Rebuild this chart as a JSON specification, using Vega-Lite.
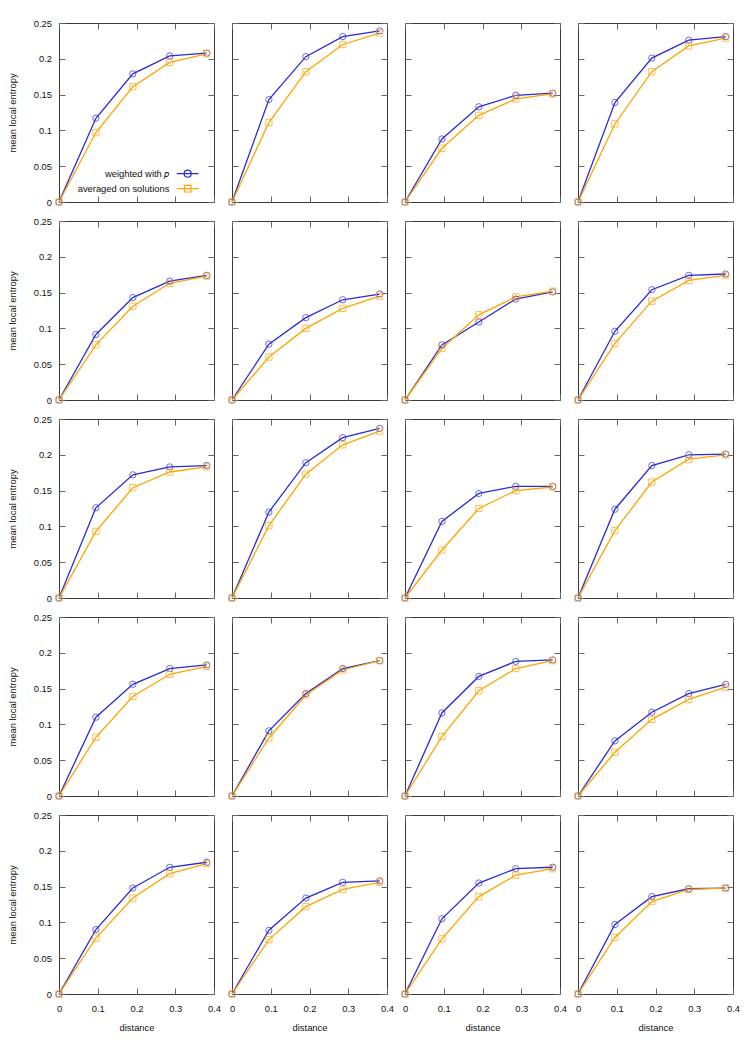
{
"$schema":"https://vega.github.io/schema/vega-lite/v6.json",
"padding":{"left":6,"top":17,"right":8,"bottom":8},
"background":"white",
"data":{"values":[
{"p":1,"s":"w","d":0,"e":0},{"p":1,"s":"w","d":0.0952,"e":0.117},{"p":1,"s":"w","d":0.1905,"e":0.179},{"p":1,"s":"w","d":0.2857,"e":0.204},{"p":1,"s":"w","d":0.381,"e":0.208},
{"p":1,"s":"a","d":0,"e":0},{"p":1,"s":"a","d":0.0952,"e":0.097},{"p":1,"s":"a","d":0.1905,"e":0.161},{"p":1,"s":"a","d":0.2857,"e":0.195},{"p":1,"s":"a","d":0.381,"e":0.207},
{"p":2,"s":"w","d":0,"e":0},{"p":2,"s":"w","d":0.0952,"e":0.143},{"p":2,"s":"w","d":0.1905,"e":0.203},{"p":2,"s":"w","d":0.2857,"e":0.231},{"p":2,"s":"w","d":0.381,"e":0.239},
{"p":2,"s":"a","d":0,"e":0},{"p":2,"s":"a","d":0.0952,"e":0.111},{"p":2,"s":"a","d":0.1905,"e":0.182},{"p":2,"s":"a","d":0.2857,"e":0.220},{"p":2,"s":"a","d":0.381,"e":0.236},
{"p":3,"s":"w","d":0,"e":0},{"p":3,"s":"w","d":0.0952,"e":0.088},{"p":3,"s":"w","d":0.1905,"e":0.133},{"p":3,"s":"w","d":0.2857,"e":0.149},{"p":3,"s":"w","d":0.381,"e":0.152},
{"p":3,"s":"a","d":0,"e":0},{"p":3,"s":"a","d":0.0952,"e":0.075},{"p":3,"s":"a","d":0.1905,"e":0.121},{"p":3,"s":"a","d":0.2857,"e":0.144},{"p":3,"s":"a","d":0.381,"e":0.151},
{"p":4,"s":"w","d":0,"e":0},{"p":4,"s":"w","d":0.0952,"e":0.139},{"p":4,"s":"w","d":0.1905,"e":0.201},{"p":4,"s":"w","d":0.2857,"e":0.226},{"p":4,"s":"w","d":0.381,"e":0.231},
{"p":4,"s":"a","d":0,"e":0},{"p":4,"s":"a","d":0.0952,"e":0.109},{"p":4,"s":"a","d":0.1905,"e":0.182},{"p":4,"s":"a","d":0.2857,"e":0.218},{"p":4,"s":"a","d":0.381,"e":0.229},
{"p":5,"s":"w","d":0,"e":0},{"p":5,"s":"w","d":0.0952,"e":0.0915},{"p":5,"s":"w","d":0.1905,"e":0.143},{"p":5,"s":"w","d":0.2857,"e":0.166},{"p":5,"s":"w","d":0.381,"e":0.174},
{"p":5,"s":"a","d":0,"e":0},{"p":5,"s":"a","d":0.0952,"e":0.077},{"p":5,"s":"a","d":0.1905,"e":0.131},{"p":5,"s":"a","d":0.2857,"e":0.163},{"p":5,"s":"a","d":0.381,"e":0.173},
{"p":6,"s":"w","d":0,"e":0},{"p":6,"s":"w","d":0.0952,"e":0.078},{"p":6,"s":"w","d":0.1905,"e":0.115},{"p":6,"s":"w","d":0.2857,"e":0.140},{"p":6,"s":"w","d":0.381,"e":0.148},
{"p":6,"s":"a","d":0,"e":0},{"p":6,"s":"a","d":0.0952,"e":0.060},{"p":6,"s":"a","d":0.1905,"e":0.100},{"p":6,"s":"a","d":0.2857,"e":0.128},{"p":6,"s":"a","d":0.381,"e":0.145},
{"p":7,"s":"w","d":0,"e":0},{"p":7,"s":"w","d":0.0952,"e":0.077},{"p":7,"s":"w","d":0.1905,"e":0.109},{"p":7,"s":"w","d":0.2857,"e":0.141},{"p":7,"s":"w","d":0.381,"e":0.151},
{"p":7,"s":"a","d":0,"e":0},{"p":7,"s":"a","d":0.0952,"e":0.072},{"p":7,"s":"a","d":0.1905,"e":0.119},{"p":7,"s":"a","d":0.2857,"e":0.144},{"p":7,"s":"a","d":0.381,"e":0.152},
{"p":8,"s":"w","d":0,"e":0},{"p":8,"s":"w","d":0.0952,"e":0.096},{"p":8,"s":"w","d":0.1905,"e":0.154},{"p":8,"s":"w","d":0.2857,"e":0.174},{"p":8,"s":"w","d":0.381,"e":0.176},
{"p":8,"s":"a","d":0,"e":0},{"p":8,"s":"a","d":0.0952,"e":0.079},{"p":8,"s":"a","d":0.1905,"e":0.138},{"p":8,"s":"a","d":0.2857,"e":0.167},{"p":8,"s":"a","d":0.381,"e":0.174},
{"p":9,"s":"w","d":0,"e":0},{"p":9,"s":"w","d":0.0952,"e":0.126},{"p":9,"s":"w","d":0.1905,"e":0.172},{"p":9,"s":"w","d":0.2857,"e":0.183},{"p":9,"s":"w","d":0.381,"e":0.185},
{"p":9,"s":"a","d":0,"e":0},{"p":9,"s":"a","d":0.0952,"e":0.093},{"p":9,"s":"a","d":0.1905,"e":0.154},{"p":9,"s":"a","d":0.2857,"e":0.176},{"p":9,"s":"a","d":0.381,"e":0.183},
{"p":10,"s":"w","d":0,"e":0},{"p":10,"s":"w","d":0.0952,"e":0.120},{"p":10,"s":"w","d":0.1905,"e":0.189},{"p":10,"s":"w","d":0.2857,"e":0.224},{"p":10,"s":"w","d":0.381,"e":0.237},
{"p":10,"s":"a","d":0,"e":0},{"p":10,"s":"a","d":0.0952,"e":0.101},{"p":10,"s":"a","d":0.1905,"e":0.173},{"p":10,"s":"a","d":0.2857,"e":0.214},{"p":10,"s":"a","d":0.381,"e":0.233},
{"p":11,"s":"w","d":0,"e":0},{"p":11,"s":"w","d":0.0952,"e":0.107},{"p":11,"s":"w","d":0.1905,"e":0.146},{"p":11,"s":"w","d":0.2857,"e":0.156},{"p":11,"s":"w","d":0.381,"e":0.156},
{"p":11,"s":"a","d":0,"e":0},{"p":11,"s":"a","d":0.0952,"e":0.067},{"p":11,"s":"a","d":0.1905,"e":0.125},{"p":11,"s":"a","d":0.2857,"e":0.150},{"p":11,"s":"a","d":0.381,"e":0.155},
{"p":12,"s":"w","d":0,"e":0},{"p":12,"s":"w","d":0.0952,"e":0.124},{"p":12,"s":"w","d":0.1905,"e":0.185},{"p":12,"s":"w","d":0.2857,"e":0.200},{"p":12,"s":"w","d":0.381,"e":0.201},
{"p":12,"s":"a","d":0,"e":0},{"p":12,"s":"a","d":0.0952,"e":0.094},{"p":12,"s":"a","d":0.1905,"e":0.162},{"p":12,"s":"a","d":0.2857,"e":0.194},{"p":12,"s":"a","d":0.381,"e":0.200},
{"p":13,"s":"w","d":0,"e":0},{"p":13,"s":"w","d":0.0952,"e":0.110},{"p":13,"s":"w","d":0.1905,"e":0.156},{"p":13,"s":"w","d":0.2857,"e":0.178},{"p":13,"s":"w","d":0.381,"e":0.183},
{"p":13,"s":"a","d":0,"e":0},{"p":13,"s":"a","d":0.0952,"e":0.082},{"p":13,"s":"a","d":0.1905,"e":0.139},{"p":13,"s":"a","d":0.2857,"e":0.170},{"p":13,"s":"a","d":0.381,"e":0.181},
{"p":14,"s":"w","d":0,"e":0},{"p":14,"s":"w","d":0.0952,"e":0.091},{"p":14,"s":"w","d":0.1905,"e":0.143},{"p":14,"s":"w","d":0.2857,"e":0.178},{"p":14,"s":"w","d":0.381,"e":0.189},
{"p":14,"s":"a","d":0,"e":0},{"p":14,"s":"a","d":0.0952,"e":0.081},{"p":14,"s":"a","d":0.1905,"e":0.141},{"p":14,"s":"a","d":0.2857,"e":0.176},{"p":14,"s":"a","d":0.381,"e":0.189},
{"p":15,"s":"w","d":0,"e":0},{"p":15,"s":"w","d":0.0952,"e":0.116},{"p":15,"s":"w","d":0.1905,"e":0.167},{"p":15,"s":"w","d":0.2857,"e":0.188},{"p":15,"s":"w","d":0.381,"e":0.190},
{"p":15,"s":"a","d":0,"e":0},{"p":15,"s":"a","d":0.0952,"e":0.083},{"p":15,"s":"a","d":0.1905,"e":0.147},{"p":15,"s":"a","d":0.2857,"e":0.178},{"p":15,"s":"a","d":0.381,"e":0.189},
{"p":16,"s":"w","d":0,"e":0},{"p":16,"s":"w","d":0.0952,"e":0.077},{"p":16,"s":"w","d":0.1905,"e":0.117},{"p":16,"s":"w","d":0.2857,"e":0.143},{"p":16,"s":"w","d":0.381,"e":0.156},
{"p":16,"s":"a","d":0,"e":0},{"p":16,"s":"a","d":0.0952,"e":0.061},{"p":16,"s":"a","d":0.1905,"e":0.107},{"p":16,"s":"a","d":0.2857,"e":0.135},{"p":16,"s":"a","d":0.381,"e":0.152},
{"p":17,"s":"w","d":0,"e":0},{"p":17,"s":"w","d":0.0952,"e":0.090},{"p":17,"s":"w","d":0.1905,"e":0.148},{"p":17,"s":"w","d":0.2857,"e":0.177},{"p":17,"s":"w","d":0.381,"e":0.184},
{"p":17,"s":"a","d":0,"e":0},{"p":17,"s":"a","d":0.0952,"e":0.078},{"p":17,"s":"a","d":0.1905,"e":0.134},{"p":17,"s":"a","d":0.2857,"e":0.168},{"p":17,"s":"a","d":0.381,"e":0.182},
{"p":18,"s":"w","d":0,"e":0},{"p":18,"s":"w","d":0.0952,"e":0.089},{"p":18,"s":"w","d":0.1905,"e":0.134},{"p":18,"s":"w","d":0.2857,"e":0.156},{"p":18,"s":"w","d":0.381,"e":0.158},
{"p":18,"s":"a","d":0,"e":0},{"p":18,"s":"a","d":0.0952,"e":0.076},{"p":18,"s":"a","d":0.1905,"e":0.122},{"p":18,"s":"a","d":0.2857,"e":0.146},{"p":18,"s":"a","d":0.381,"e":0.156},
{"p":19,"s":"w","d":0,"e":0},{"p":19,"s":"w","d":0.0952,"e":0.105},{"p":19,"s":"w","d":0.1905,"e":0.155},{"p":19,"s":"w","d":0.2857,"e":0.175},{"p":19,"s":"w","d":0.381,"e":0.177},
{"p":19,"s":"a","d":0,"e":0},{"p":19,"s":"a","d":0.0952,"e":0.077},{"p":19,"s":"a","d":0.1905,"e":0.136},{"p":19,"s":"a","d":0.2857,"e":0.166},{"p":19,"s":"a","d":0.381,"e":0.175},
{"p":20,"s":"w","d":0,"e":0},{"p":20,"s":"w","d":0.0952,"e":0.097},{"p":20,"s":"w","d":0.1905,"e":0.136},{"p":20,"s":"w","d":0.2857,"e":0.147},{"p":20,"s":"w","d":0.381,"e":0.148},
{"p":20,"s":"a","d":0,"e":0},{"p":20,"s":"a","d":0.0952,"e":0.079},{"p":20,"s":"a","d":0.1905,"e":0.129},{"p":20,"s":"a","d":0.2857,"e":0.146},{"p":20,"s":"a","d":0.381,"e":0.148}
]},
"columns":4,
"spacing":{"row":19,"column":18},
"bounds":"flush",
"concat":[
{"width":155,"height":179,"transform":[{"filter":"datum.p == 1"}],"layer":[
 {"mark":{"type":"line","strokeWidth":1.3},"encoding":{
  "x":{"field":"d","type":"quantitative","scale":{"domain":[0,0.4],"nice":false,"zero":false},"axis":{"orient":"bottom","values":[0,0.1,0.2,0.3,0.4],"labels":false,"title":null}},
  "y":{"field":"e","type":"quantitative","scale":{"domain":[0,0.25],"nice":false},"axis":{"orient":"left","values":[0,0.05,0.1,0.15,0.2,0.25],"format":"~g","title":"mean local entropy"}},
  "color":{"field":"s","type":"nominal","scale":{"domain":["w","a"],"range":["#2b2bd6","#ffa500"]},"legend":null}}},
 {"mark":{"type":"point","filled":false,"size":40,"strokeWidth":1,"opacity":0.7},"encoding":{
  "x":{"field":"d","type":"quantitative","scale":{"domain":[0,0.4],"nice":false,"zero":false},"axis":{"orient":"top","values":[0,0.1,0.2,0.3,0.4],"labels":false,"title":null}},
  "y":{"field":"e","type":"quantitative","scale":{"domain":[0,0.25],"nice":false},"axis":{"orient":"right","values":[0,0.05,0.1,0.15,0.2,0.25],"labels":false,"title":null}},
  "color":{"field":"s","type":"nominal","scale":{"domain":["w","a"],"range":["#2b2bd6","#ffa500"]},"legend":null},
  "shape":{"field":"s","type":"nominal","scale":{"domain":["w","a"],"range":["circle","square"]},"legend":null}}},
 {"mark":{"type":"point","filled":false,"size":49,"strokeWidth":1.2,"strokeOpacity":0,"fillOpacity":0},"encoding":{
  "x":{"field":"d","type":"quantitative","scale":{"domain":[0,0.4],"nice":false,"zero":false},"axis":null},
  "y":{"field":"e","type":"quantitative","scale":{"domain":[0,0.25],"nice":false},"axis":null},
  "color":{"field":"s","type":"nominal","scale":{"domain":["w","a"],"range":["#2b2bd6","#ffa500"]},"legend":{"orient":"bottom-right","title":null,"offset":7.5,"padding":0,"labelFontSize":9.4,"labelFont":"Liberation Sans","labelColor":"#111","labelAlign":"right","labelOffset":-23,"symbolSize":49,"symbolStrokeWidth":1.2,"rowPadding":3,"labelExpr":"datum.value == 'w' ? 'weighted with 𝑝' : 'averaged on solutions'","encode":{"symbols":{"update":{"opacity":{"value":0.85},"strokeOpacity":{"value":1}}}}}},
  "shape":{"field":"s","type":"nominal","scale":{"domain":["w","a"],"range":["M-3.1,0L3.1,0M1,0A1,1 0 1 1 -1,0A1,1 0 1 1 1,0M4.67,0","M-3.1,0L3.1,0M-0.94,-0.94L0.94,-0.94L0.94,0.94L-0.94,0.94ZM4.67,0"]},"legend":{"orient":"bottom-right","title":null,"offset":7.5,"padding":0,"labelFontSize":9.4,"labelFont":"Liberation Sans","labelColor":"#111","labelAlign":"right","labelOffset":-23,"symbolSize":49,"symbolStrokeWidth":1.2,"rowPadding":3,"labelExpr":"datum.value == 'w' ? 'weighted with 𝑝' : 'averaged on solutions'","encode":{"symbols":{"update":{"opacity":{"value":0.85},"strokeOpacity":{"value":1}}}}}}}}
],"resolve":{"axis":{"x":"independent","y":"independent"},"scale":{"color":"independent","shape":"independent"}}},
{"width":155,"height":179,"transform":[{"filter":"datum.p == 2"}],"layer":[
 {"mark":{"type":"line","strokeWidth":1.3},"encoding":{
  "x":{"field":"d","type":"quantitative","scale":{"domain":[0,0.4],"nice":false,"zero":false},"axis":{"orient":"bottom","values":[0,0.1,0.2,0.3,0.4],"labels":false,"title":null}},
  "y":{"field":"e","type":"quantitative","scale":{"domain":[0,0.25],"nice":false},"axis":{"orient":"left","values":[0,0.05,0.1,0.15,0.2,0.25],"labels":false,"title":null}},
  "color":{"field":"s","type":"nominal","scale":{"domain":["w","a"],"range":["#2b2bd6","#ffa500"]},"legend":null}}},
 {"mark":{"type":"point","filled":false,"size":40,"strokeWidth":1,"opacity":0.7},"encoding":{
  "x":{"field":"d","type":"quantitative","scale":{"domain":[0,0.4],"nice":false,"zero":false},"axis":{"orient":"top","values":[0,0.1,0.2,0.3,0.4],"labels":false,"title":null}},
  "y":{"field":"e","type":"quantitative","scale":{"domain":[0,0.25],"nice":false},"axis":{"orient":"right","values":[0,0.05,0.1,0.15,0.2,0.25],"labels":false,"title":null}},
  "color":{"field":"s","type":"nominal","scale":{"domain":["w","a"],"range":["#2b2bd6","#ffa500"]},"legend":null},
  "shape":{"field":"s","type":"nominal","scale":{"domain":["w","a"],"range":["circle","square"]},"legend":null}}}
],"resolve":{"axis":{"x":"independent","y":"independent"},"scale":{"color":"independent","shape":"independent"}}},
{"width":155,"height":179,"transform":[{"filter":"datum.p == 3"}],"layer":[
 {"mark":{"type":"line","strokeWidth":1.3},"encoding":{
  "x":{"field":"d","type":"quantitative","scale":{"domain":[0,0.4],"nice":false,"zero":false},"axis":{"orient":"bottom","values":[0,0.1,0.2,0.3,0.4],"labels":false,"title":null}},
  "y":{"field":"e","type":"quantitative","scale":{"domain":[0,0.25],"nice":false},"axis":{"orient":"left","values":[0,0.05,0.1,0.15,0.2,0.25],"labels":false,"title":null}},
  "color":{"field":"s","type":"nominal","scale":{"domain":["w","a"],"range":["#2b2bd6","#ffa500"]},"legend":null}}},
 {"mark":{"type":"point","filled":false,"size":40,"strokeWidth":1,"opacity":0.7},"encoding":{
  "x":{"field":"d","type":"quantitative","scale":{"domain":[0,0.4],"nice":false,"zero":false},"axis":{"orient":"top","values":[0,0.1,0.2,0.3,0.4],"labels":false,"title":null}},
  "y":{"field":"e","type":"quantitative","scale":{"domain":[0,0.25],"nice":false},"axis":{"orient":"right","values":[0,0.05,0.1,0.15,0.2,0.25],"labels":false,"title":null}},
  "color":{"field":"s","type":"nominal","scale":{"domain":["w","a"],"range":["#2b2bd6","#ffa500"]},"legend":null},
  "shape":{"field":"s","type":"nominal","scale":{"domain":["w","a"],"range":["circle","square"]},"legend":null}}}
],"resolve":{"axis":{"x":"independent","y":"independent"},"scale":{"color":"independent","shape":"independent"}}},
{"width":155,"height":179,"transform":[{"filter":"datum.p == 4"}],"layer":[
 {"mark":{"type":"line","strokeWidth":1.3},"encoding":{
  "x":{"field":"d","type":"quantitative","scale":{"domain":[0,0.4],"nice":false,"zero":false},"axis":{"orient":"bottom","values":[0,0.1,0.2,0.3,0.4],"labels":false,"title":null}},
  "y":{"field":"e","type":"quantitative","scale":{"domain":[0,0.25],"nice":false},"axis":{"orient":"left","values":[0,0.05,0.1,0.15,0.2,0.25],"labels":false,"title":null}},
  "color":{"field":"s","type":"nominal","scale":{"domain":["w","a"],"range":["#2b2bd6","#ffa500"]},"legend":null}}},
 {"mark":{"type":"point","filled":false,"size":40,"strokeWidth":1,"opacity":0.7},"encoding":{
  "x":{"field":"d","type":"quantitative","scale":{"domain":[0,0.4],"nice":false,"zero":false},"axis":{"orient":"top","values":[0,0.1,0.2,0.3,0.4],"labels":false,"title":null}},
  "y":{"field":"e","type":"quantitative","scale":{"domain":[0,0.25],"nice":false},"axis":{"orient":"right","values":[0,0.05,0.1,0.15,0.2,0.25],"labels":false,"title":null}},
  "color":{"field":"s","type":"nominal","scale":{"domain":["w","a"],"range":["#2b2bd6","#ffa500"]},"legend":null},
  "shape":{"field":"s","type":"nominal","scale":{"domain":["w","a"],"range":["circle","square"]},"legend":null}}}
],"resolve":{"axis":{"x":"independent","y":"independent"},"scale":{"color":"independent","shape":"independent"}}},
{"width":155,"height":179,"transform":[{"filter":"datum.p == 5"}],"layer":[
 {"mark":{"type":"line","strokeWidth":1.3},"encoding":{
  "x":{"field":"d","type":"quantitative","scale":{"domain":[0,0.4],"nice":false,"zero":false},"axis":{"orient":"bottom","values":[0,0.1,0.2,0.3,0.4],"labels":false,"title":null}},
  "y":{"field":"e","type":"quantitative","scale":{"domain":[0,0.25],"nice":false},"axis":{"orient":"left","values":[0,0.05,0.1,0.15,0.2,0.25],"format":"~g","title":"mean local entropy"}},
  "color":{"field":"s","type":"nominal","scale":{"domain":["w","a"],"range":["#2b2bd6","#ffa500"]},"legend":null}}},
 {"mark":{"type":"point","filled":false,"size":40,"strokeWidth":1,"opacity":0.7},"encoding":{
  "x":{"field":"d","type":"quantitative","scale":{"domain":[0,0.4],"nice":false,"zero":false},"axis":{"orient":"top","values":[0,0.1,0.2,0.3,0.4],"labels":false,"title":null}},
  "y":{"field":"e","type":"quantitative","scale":{"domain":[0,0.25],"nice":false},"axis":{"orient":"right","values":[0,0.05,0.1,0.15,0.2,0.25],"labels":false,"title":null}},
  "color":{"field":"s","type":"nominal","scale":{"domain":["w","a"],"range":["#2b2bd6","#ffa500"]},"legend":null},
  "shape":{"field":"s","type":"nominal","scale":{"domain":["w","a"],"range":["circle","square"]},"legend":null}}}
],"resolve":{"axis":{"x":"independent","y":"independent"},"scale":{"color":"independent","shape":"independent"}}},
{"width":155,"height":179,"transform":[{"filter":"datum.p == 6"}],"layer":[
 {"mark":{"type":"line","strokeWidth":1.3},"encoding":{
  "x":{"field":"d","type":"quantitative","scale":{"domain":[0,0.4],"nice":false,"zero":false},"axis":{"orient":"bottom","values":[0,0.1,0.2,0.3,0.4],"labels":false,"title":null}},
  "y":{"field":"e","type":"quantitative","scale":{"domain":[0,0.25],"nice":false},"axis":{"orient":"left","values":[0,0.05,0.1,0.15,0.2,0.25],"labels":false,"title":null}},
  "color":{"field":"s","type":"nominal","scale":{"domain":["w","a"],"range":["#2b2bd6","#ffa500"]},"legend":null}}},
 {"mark":{"type":"point","filled":false,"size":40,"strokeWidth":1,"opacity":0.7},"encoding":{
  "x":{"field":"d","type":"quantitative","scale":{"domain":[0,0.4],"nice":false,"zero":false},"axis":{"orient":"top","values":[0,0.1,0.2,0.3,0.4],"labels":false,"title":null}},
  "y":{"field":"e","type":"quantitative","scale":{"domain":[0,0.25],"nice":false},"axis":{"orient":"right","values":[0,0.05,0.1,0.15,0.2,0.25],"labels":false,"title":null}},
  "color":{"field":"s","type":"nominal","scale":{"domain":["w","a"],"range":["#2b2bd6","#ffa500"]},"legend":null},
  "shape":{"field":"s","type":"nominal","scale":{"domain":["w","a"],"range":["circle","square"]},"legend":null}}}
],"resolve":{"axis":{"x":"independent","y":"independent"},"scale":{"color":"independent","shape":"independent"}}},
{"width":155,"height":179,"transform":[{"filter":"datum.p == 7"}],"layer":[
 {"mark":{"type":"line","strokeWidth":1.3},"encoding":{
  "x":{"field":"d","type":"quantitative","scale":{"domain":[0,0.4],"nice":false,"zero":false},"axis":{"orient":"bottom","values":[0,0.1,0.2,0.3,0.4],"labels":false,"title":null}},
  "y":{"field":"e","type":"quantitative","scale":{"domain":[0,0.25],"nice":false},"axis":{"orient":"left","values":[0,0.05,0.1,0.15,0.2,0.25],"labels":false,"title":null}},
  "color":{"field":"s","type":"nominal","scale":{"domain":["w","a"],"range":["#2b2bd6","#ffa500"]},"legend":null}}},
 {"mark":{"type":"point","filled":false,"size":40,"strokeWidth":1,"opacity":0.7},"encoding":{
  "x":{"field":"d","type":"quantitative","scale":{"domain":[0,0.4],"nice":false,"zero":false},"axis":{"orient":"top","values":[0,0.1,0.2,0.3,0.4],"labels":false,"title":null}},
  "y":{"field":"e","type":"quantitative","scale":{"domain":[0,0.25],"nice":false},"axis":{"orient":"right","values":[0,0.05,0.1,0.15,0.2,0.25],"labels":false,"title":null}},
  "color":{"field":"s","type":"nominal","scale":{"domain":["w","a"],"range":["#2b2bd6","#ffa500"]},"legend":null},
  "shape":{"field":"s","type":"nominal","scale":{"domain":["w","a"],"range":["circle","square"]},"legend":null}}}
],"resolve":{"axis":{"x":"independent","y":"independent"},"scale":{"color":"independent","shape":"independent"}}},
{"width":155,"height":179,"transform":[{"filter":"datum.p == 8"}],"layer":[
 {"mark":{"type":"line","strokeWidth":1.3},"encoding":{
  "x":{"field":"d","type":"quantitative","scale":{"domain":[0,0.4],"nice":false,"zero":false},"axis":{"orient":"bottom","values":[0,0.1,0.2,0.3,0.4],"labels":false,"title":null}},
  "y":{"field":"e","type":"quantitative","scale":{"domain":[0,0.25],"nice":false},"axis":{"orient":"left","values":[0,0.05,0.1,0.15,0.2,0.25],"labels":false,"title":null}},
  "color":{"field":"s","type":"nominal","scale":{"domain":["w","a"],"range":["#2b2bd6","#ffa500"]},"legend":null}}},
 {"mark":{"type":"point","filled":false,"size":40,"strokeWidth":1,"opacity":0.7},"encoding":{
  "x":{"field":"d","type":"quantitative","scale":{"domain":[0,0.4],"nice":false,"zero":false},"axis":{"orient":"top","values":[0,0.1,0.2,0.3,0.4],"labels":false,"title":null}},
  "y":{"field":"e","type":"quantitative","scale":{"domain":[0,0.25],"nice":false},"axis":{"orient":"right","values":[0,0.05,0.1,0.15,0.2,0.25],"labels":false,"title":null}},
  "color":{"field":"s","type":"nominal","scale":{"domain":["w","a"],"range":["#2b2bd6","#ffa500"]},"legend":null},
  "shape":{"field":"s","type":"nominal","scale":{"domain":["w","a"],"range":["circle","square"]},"legend":null}}}
],"resolve":{"axis":{"x":"independent","y":"independent"},"scale":{"color":"independent","shape":"independent"}}},
{"width":155,"height":179,"transform":[{"filter":"datum.p == 9"}],"layer":[
 {"mark":{"type":"line","strokeWidth":1.3},"encoding":{
  "x":{"field":"d","type":"quantitative","scale":{"domain":[0,0.4],"nice":false,"zero":false},"axis":{"orient":"bottom","values":[0,0.1,0.2,0.3,0.4],"labels":false,"title":null}},
  "y":{"field":"e","type":"quantitative","scale":{"domain":[0,0.25],"nice":false},"axis":{"orient":"left","values":[0,0.05,0.1,0.15,0.2,0.25],"format":"~g","title":"mean local entropy"}},
  "color":{"field":"s","type":"nominal","scale":{"domain":["w","a"],"range":["#2b2bd6","#ffa500"]},"legend":null}}},
 {"mark":{"type":"point","filled":false,"size":40,"strokeWidth":1,"opacity":0.7},"encoding":{
  "x":{"field":"d","type":"quantitative","scale":{"domain":[0,0.4],"nice":false,"zero":false},"axis":{"orient":"top","values":[0,0.1,0.2,0.3,0.4],"labels":false,"title":null}},
  "y":{"field":"e","type":"quantitative","scale":{"domain":[0,0.25],"nice":false},"axis":{"orient":"right","values":[0,0.05,0.1,0.15,0.2,0.25],"labels":false,"title":null}},
  "color":{"field":"s","type":"nominal","scale":{"domain":["w","a"],"range":["#2b2bd6","#ffa500"]},"legend":null},
  "shape":{"field":"s","type":"nominal","scale":{"domain":["w","a"],"range":["circle","square"]},"legend":null}}}
],"resolve":{"axis":{"x":"independent","y":"independent"},"scale":{"color":"independent","shape":"independent"}}},
{"width":155,"height":179,"transform":[{"filter":"datum.p == 10"}],"layer":[
 {"mark":{"type":"line","strokeWidth":1.3},"encoding":{
  "x":{"field":"d","type":"quantitative","scale":{"domain":[0,0.4],"nice":false,"zero":false},"axis":{"orient":"bottom","values":[0,0.1,0.2,0.3,0.4],"labels":false,"title":null}},
  "y":{"field":"e","type":"quantitative","scale":{"domain":[0,0.25],"nice":false},"axis":{"orient":"left","values":[0,0.05,0.1,0.15,0.2,0.25],"labels":false,"title":null}},
  "color":{"field":"s","type":"nominal","scale":{"domain":["w","a"],"range":["#2b2bd6","#ffa500"]},"legend":null}}},
 {"mark":{"type":"point","filled":false,"size":40,"strokeWidth":1,"opacity":0.7},"encoding":{
  "x":{"field":"d","type":"quantitative","scale":{"domain":[0,0.4],"nice":false,"zero":false},"axis":{"orient":"top","values":[0,0.1,0.2,0.3,0.4],"labels":false,"title":null}},
  "y":{"field":"e","type":"quantitative","scale":{"domain":[0,0.25],"nice":false},"axis":{"orient":"right","values":[0,0.05,0.1,0.15,0.2,0.25],"labels":false,"title":null}},
  "color":{"field":"s","type":"nominal","scale":{"domain":["w","a"],"range":["#2b2bd6","#ffa500"]},"legend":null},
  "shape":{"field":"s","type":"nominal","scale":{"domain":["w","a"],"range":["circle","square"]},"legend":null}}}
],"resolve":{"axis":{"x":"independent","y":"independent"},"scale":{"color":"independent","shape":"independent"}}},
{"width":155,"height":179,"transform":[{"filter":"datum.p == 11"}],"layer":[
 {"mark":{"type":"line","strokeWidth":1.3},"encoding":{
  "x":{"field":"d","type":"quantitative","scale":{"domain":[0,0.4],"nice":false,"zero":false},"axis":{"orient":"bottom","values":[0,0.1,0.2,0.3,0.4],"labels":false,"title":null}},
  "y":{"field":"e","type":"quantitative","scale":{"domain":[0,0.25],"nice":false},"axis":{"orient":"left","values":[0,0.05,0.1,0.15,0.2,0.25],"labels":false,"title":null}},
  "color":{"field":"s","type":"nominal","scale":{"domain":["w","a"],"range":["#2b2bd6","#ffa500"]},"legend":null}}},
 {"mark":{"type":"point","filled":false,"size":40,"strokeWidth":1,"opacity":0.7},"encoding":{
  "x":{"field":"d","type":"quantitative","scale":{"domain":[0,0.4],"nice":false,"zero":false},"axis":{"orient":"top","values":[0,0.1,0.2,0.3,0.4],"labels":false,"title":null}},
  "y":{"field":"e","type":"quantitative","scale":{"domain":[0,0.25],"nice":false},"axis":{"orient":"right","values":[0,0.05,0.1,0.15,0.2,0.25],"labels":false,"title":null}},
  "color":{"field":"s","type":"nominal","scale":{"domain":["w","a"],"range":["#2b2bd6","#ffa500"]},"legend":null},
  "shape":{"field":"s","type":"nominal","scale":{"domain":["w","a"],"range":["circle","square"]},"legend":null}}}
],"resolve":{"axis":{"x":"independent","y":"independent"},"scale":{"color":"independent","shape":"independent"}}},
{"width":155,"height":179,"transform":[{"filter":"datum.p == 12"}],"layer":[
 {"mark":{"type":"line","strokeWidth":1.3},"encoding":{
  "x":{"field":"d","type":"quantitative","scale":{"domain":[0,0.4],"nice":false,"zero":false},"axis":{"orient":"bottom","values":[0,0.1,0.2,0.3,0.4],"labels":false,"title":null}},
  "y":{"field":"e","type":"quantitative","scale":{"domain":[0,0.25],"nice":false},"axis":{"orient":"left","values":[0,0.05,0.1,0.15,0.2,0.25],"labels":false,"title":null}},
  "color":{"field":"s","type":"nominal","scale":{"domain":["w","a"],"range":["#2b2bd6","#ffa500"]},"legend":null}}},
 {"mark":{"type":"point","filled":false,"size":40,"strokeWidth":1,"opacity":0.7},"encoding":{
  "x":{"field":"d","type":"quantitative","scale":{"domain":[0,0.4],"nice":false,"zero":false},"axis":{"orient":"top","values":[0,0.1,0.2,0.3,0.4],"labels":false,"title":null}},
  "y":{"field":"e","type":"quantitative","scale":{"domain":[0,0.25],"nice":false},"axis":{"orient":"right","values":[0,0.05,0.1,0.15,0.2,0.25],"labels":false,"title":null}},
  "color":{"field":"s","type":"nominal","scale":{"domain":["w","a"],"range":["#2b2bd6","#ffa500"]},"legend":null},
  "shape":{"field":"s","type":"nominal","scale":{"domain":["w","a"],"range":["circle","square"]},"legend":null}}}
],"resolve":{"axis":{"x":"independent","y":"independent"},"scale":{"color":"independent","shape":"independent"}}},
{"width":155,"height":179,"transform":[{"filter":"datum.p == 13"}],"layer":[
 {"mark":{"type":"line","strokeWidth":1.3},"encoding":{
  "x":{"field":"d","type":"quantitative","scale":{"domain":[0,0.4],"nice":false,"zero":false},"axis":{"orient":"bottom","values":[0,0.1,0.2,0.3,0.4],"labels":false,"title":null}},
  "y":{"field":"e","type":"quantitative","scale":{"domain":[0,0.25],"nice":false},"axis":{"orient":"left","values":[0,0.05,0.1,0.15,0.2,0.25],"format":"~g","title":"mean local entropy"}},
  "color":{"field":"s","type":"nominal","scale":{"domain":["w","a"],"range":["#2b2bd6","#ffa500"]},"legend":null}}},
 {"mark":{"type":"point","filled":false,"size":40,"strokeWidth":1,"opacity":0.7},"encoding":{
  "x":{"field":"d","type":"quantitative","scale":{"domain":[0,0.4],"nice":false,"zero":false},"axis":{"orient":"top","values":[0,0.1,0.2,0.3,0.4],"labels":false,"title":null}},
  "y":{"field":"e","type":"quantitative","scale":{"domain":[0,0.25],"nice":false},"axis":{"orient":"right","values":[0,0.05,0.1,0.15,0.2,0.25],"labels":false,"title":null}},
  "color":{"field":"s","type":"nominal","scale":{"domain":["w","a"],"range":["#2b2bd6","#ffa500"]},"legend":null},
  "shape":{"field":"s","type":"nominal","scale":{"domain":["w","a"],"range":["circle","square"]},"legend":null}}}
],"resolve":{"axis":{"x":"independent","y":"independent"},"scale":{"color":"independent","shape":"independent"}}},
{"width":155,"height":179,"transform":[{"filter":"datum.p == 14"}],"layer":[
 {"mark":{"type":"line","strokeWidth":1.3},"encoding":{
  "x":{"field":"d","type":"quantitative","scale":{"domain":[0,0.4],"nice":false,"zero":false},"axis":{"orient":"bottom","values":[0,0.1,0.2,0.3,0.4],"labels":false,"title":null}},
  "y":{"field":"e","type":"quantitative","scale":{"domain":[0,0.25],"nice":false},"axis":{"orient":"left","values":[0,0.05,0.1,0.15,0.2,0.25],"labels":false,"title":null}},
  "color":{"field":"s","type":"nominal","scale":{"domain":["w","a"],"range":["#2b2bd6","#ffa500"]},"legend":null}}},
 {"mark":{"type":"point","filled":false,"size":40,"strokeWidth":1,"opacity":0.7},"encoding":{
  "x":{"field":"d","type":"quantitative","scale":{"domain":[0,0.4],"nice":false,"zero":false},"axis":{"orient":"top","values":[0,0.1,0.2,0.3,0.4],"labels":false,"title":null}},
  "y":{"field":"e","type":"quantitative","scale":{"domain":[0,0.25],"nice":false},"axis":{"orient":"right","values":[0,0.05,0.1,0.15,0.2,0.25],"labels":false,"title":null}},
  "color":{"field":"s","type":"nominal","scale":{"domain":["w","a"],"range":["#2b2bd6","#ffa500"]},"legend":null},
  "shape":{"field":"s","type":"nominal","scale":{"domain":["w","a"],"range":["circle","square"]},"legend":null}}}
],"resolve":{"axis":{"x":"independent","y":"independent"},"scale":{"color":"independent","shape":"independent"}}},
{"width":155,"height":179,"transform":[{"filter":"datum.p == 15"}],"layer":[
 {"mark":{"type":"line","strokeWidth":1.3},"encoding":{
  "x":{"field":"d","type":"quantitative","scale":{"domain":[0,0.4],"nice":false,"zero":false},"axis":{"orient":"bottom","values":[0,0.1,0.2,0.3,0.4],"labels":false,"title":null}},
  "y":{"field":"e","type":"quantitative","scale":{"domain":[0,0.25],"nice":false},"axis":{"orient":"left","values":[0,0.05,0.1,0.15,0.2,0.25],"labels":false,"title":null}},
  "color":{"field":"s","type":"nominal","scale":{"domain":["w","a"],"range":["#2b2bd6","#ffa500"]},"legend":null}}},
 {"mark":{"type":"point","filled":false,"size":40,"strokeWidth":1,"opacity":0.7},"encoding":{
  "x":{"field":"d","type":"quantitative","scale":{"domain":[0,0.4],"nice":false,"zero":false},"axis":{"orient":"top","values":[0,0.1,0.2,0.3,0.4],"labels":false,"title":null}},
  "y":{"field":"e","type":"quantitative","scale":{"domain":[0,0.25],"nice":false},"axis":{"orient":"right","values":[0,0.05,0.1,0.15,0.2,0.25],"labels":false,"title":null}},
  "color":{"field":"s","type":"nominal","scale":{"domain":["w","a"],"range":["#2b2bd6","#ffa500"]},"legend":null},
  "shape":{"field":"s","type":"nominal","scale":{"domain":["w","a"],"range":["circle","square"]},"legend":null}}}
],"resolve":{"axis":{"x":"independent","y":"independent"},"scale":{"color":"independent","shape":"independent"}}},
{"width":155,"height":179,"transform":[{"filter":"datum.p == 16"}],"layer":[
 {"mark":{"type":"line","strokeWidth":1.3},"encoding":{
  "x":{"field":"d","type":"quantitative","scale":{"domain":[0,0.4],"nice":false,"zero":false},"axis":{"orient":"bottom","values":[0,0.1,0.2,0.3,0.4],"labels":false,"title":null}},
  "y":{"field":"e","type":"quantitative","scale":{"domain":[0,0.25],"nice":false},"axis":{"orient":"left","values":[0,0.05,0.1,0.15,0.2,0.25],"labels":false,"title":null}},
  "color":{"field":"s","type":"nominal","scale":{"domain":["w","a"],"range":["#2b2bd6","#ffa500"]},"legend":null}}},
 {"mark":{"type":"point","filled":false,"size":40,"strokeWidth":1,"opacity":0.7},"encoding":{
  "x":{"field":"d","type":"quantitative","scale":{"domain":[0,0.4],"nice":false,"zero":false},"axis":{"orient":"top","values":[0,0.1,0.2,0.3,0.4],"labels":false,"title":null}},
  "y":{"field":"e","type":"quantitative","scale":{"domain":[0,0.25],"nice":false},"axis":{"orient":"right","values":[0,0.05,0.1,0.15,0.2,0.25],"labels":false,"title":null}},
  "color":{"field":"s","type":"nominal","scale":{"domain":["w","a"],"range":["#2b2bd6","#ffa500"]},"legend":null},
  "shape":{"field":"s","type":"nominal","scale":{"domain":["w","a"],"range":["circle","square"]},"legend":null}}}
],"resolve":{"axis":{"x":"independent","y":"independent"},"scale":{"color":"independent","shape":"independent"}}},
{"width":155,"height":179,"transform":[{"filter":"datum.p == 17"}],"layer":[
 {"mark":{"type":"line","strokeWidth":1.3},"encoding":{
  "x":{"field":"d","type":"quantitative","scale":{"domain":[0,0.4],"nice":false,"zero":false},"axis":{"orient":"bottom","values":[0,0.1,0.2,0.3,0.4],"format":"~g","title":"distance"}},
  "y":{"field":"e","type":"quantitative","scale":{"domain":[0,0.25],"nice":false},"axis":{"orient":"left","values":[0,0.05,0.1,0.15,0.2,0.25],"format":"~g","title":"mean local entropy"}},
  "color":{"field":"s","type":"nominal","scale":{"domain":["w","a"],"range":["#2b2bd6","#ffa500"]},"legend":null}}},
 {"mark":{"type":"point","filled":false,"size":40,"strokeWidth":1,"opacity":0.7},"encoding":{
  "x":{"field":"d","type":"quantitative","scale":{"domain":[0,0.4],"nice":false,"zero":false},"axis":{"orient":"top","values":[0,0.1,0.2,0.3,0.4],"labels":false,"title":null}},
  "y":{"field":"e","type":"quantitative","scale":{"domain":[0,0.25],"nice":false},"axis":{"orient":"right","values":[0,0.05,0.1,0.15,0.2,0.25],"labels":false,"title":null}},
  "color":{"field":"s","type":"nominal","scale":{"domain":["w","a"],"range":["#2b2bd6","#ffa500"]},"legend":null},
  "shape":{"field":"s","type":"nominal","scale":{"domain":["w","a"],"range":["circle","square"]},"legend":null}}}
],"resolve":{"axis":{"x":"independent","y":"independent"},"scale":{"color":"independent","shape":"independent"}}},
{"width":155,"height":179,"transform":[{"filter":"datum.p == 18"}],"layer":[
 {"mark":{"type":"line","strokeWidth":1.3},"encoding":{
  "x":{"field":"d","type":"quantitative","scale":{"domain":[0,0.4],"nice":false,"zero":false},"axis":{"orient":"bottom","values":[0,0.1,0.2,0.3,0.4],"format":"~g","title":"distance"}},
  "y":{"field":"e","type":"quantitative","scale":{"domain":[0,0.25],"nice":false},"axis":{"orient":"left","values":[0,0.05,0.1,0.15,0.2,0.25],"labels":false,"title":null}},
  "color":{"field":"s","type":"nominal","scale":{"domain":["w","a"],"range":["#2b2bd6","#ffa500"]},"legend":null}}},
 {"mark":{"type":"point","filled":false,"size":40,"strokeWidth":1,"opacity":0.7},"encoding":{
  "x":{"field":"d","type":"quantitative","scale":{"domain":[0,0.4],"nice":false,"zero":false},"axis":{"orient":"top","values":[0,0.1,0.2,0.3,0.4],"labels":false,"title":null}},
  "y":{"field":"e","type":"quantitative","scale":{"domain":[0,0.25],"nice":false},"axis":{"orient":"right","values":[0,0.05,0.1,0.15,0.2,0.25],"labels":false,"title":null}},
  "color":{"field":"s","type":"nominal","scale":{"domain":["w","a"],"range":["#2b2bd6","#ffa500"]},"legend":null},
  "shape":{"field":"s","type":"nominal","scale":{"domain":["w","a"],"range":["circle","square"]},"legend":null}}}
],"resolve":{"axis":{"x":"independent","y":"independent"},"scale":{"color":"independent","shape":"independent"}}},
{"width":155,"height":179,"transform":[{"filter":"datum.p == 19"}],"layer":[
 {"mark":{"type":"line","strokeWidth":1.3},"encoding":{
  "x":{"field":"d","type":"quantitative","scale":{"domain":[0,0.4],"nice":false,"zero":false},"axis":{"orient":"bottom","values":[0,0.1,0.2,0.3,0.4],"format":"~g","title":"distance"}},
  "y":{"field":"e","type":"quantitative","scale":{"domain":[0,0.25],"nice":false},"axis":{"orient":"left","values":[0,0.05,0.1,0.15,0.2,0.25],"labels":false,"title":null}},
  "color":{"field":"s","type":"nominal","scale":{"domain":["w","a"],"range":["#2b2bd6","#ffa500"]},"legend":null}}},
 {"mark":{"type":"point","filled":false,"size":40,"strokeWidth":1,"opacity":0.7},"encoding":{
  "x":{"field":"d","type":"quantitative","scale":{"domain":[0,0.4],"nice":false,"zero":false},"axis":{"orient":"top","values":[0,0.1,0.2,0.3,0.4],"labels":false,"title":null}},
  "y":{"field":"e","type":"quantitative","scale":{"domain":[0,0.25],"nice":false},"axis":{"orient":"right","values":[0,0.05,0.1,0.15,0.2,0.25],"labels":false,"title":null}},
  "color":{"field":"s","type":"nominal","scale":{"domain":["w","a"],"range":["#2b2bd6","#ffa500"]},"legend":null},
  "shape":{"field":"s","type":"nominal","scale":{"domain":["w","a"],"range":["circle","square"]},"legend":null}}}
],"resolve":{"axis":{"x":"independent","y":"independent"},"scale":{"color":"independent","shape":"independent"}}},
{"width":155,"height":179,"transform":[{"filter":"datum.p == 20"}],"layer":[
 {"mark":{"type":"line","strokeWidth":1.3},"encoding":{
  "x":{"field":"d","type":"quantitative","scale":{"domain":[0,0.4],"nice":false,"zero":false},"axis":{"orient":"bottom","values":[0,0.1,0.2,0.3,0.4],"format":"~g","title":"distance"}},
  "y":{"field":"e","type":"quantitative","scale":{"domain":[0,0.25],"nice":false},"axis":{"orient":"left","values":[0,0.05,0.1,0.15,0.2,0.25],"labels":false,"title":null}},
  "color":{"field":"s","type":"nominal","scale":{"domain":["w","a"],"range":["#2b2bd6","#ffa500"]},"legend":null}}},
 {"mark":{"type":"point","filled":false,"size":40,"strokeWidth":1,"opacity":0.7},"encoding":{
  "x":{"field":"d","type":"quantitative","scale":{"domain":[0,0.4],"nice":false,"zero":false},"axis":{"orient":"top","values":[0,0.1,0.2,0.3,0.4],"labels":false,"title":null}},
  "y":{"field":"e","type":"quantitative","scale":{"domain":[0,0.25],"nice":false},"axis":{"orient":"right","values":[0,0.05,0.1,0.15,0.2,0.25],"labels":false,"title":null}},
  "color":{"field":"s","type":"nominal","scale":{"domain":["w","a"],"range":["#2b2bd6","#ffa500"]},"legend":null},
  "shape":{"field":"s","type":"nominal","scale":{"domain":["w","a"],"range":["circle","square"]},"legend":null}}}
],"resolve":{"axis":{"x":"independent","y":"independent"},"scale":{"color":"independent","shape":"independent"}}}
],
"config":{
 "view":{"stroke":"#3a3a3a","strokeWidth":1},
 "axis":{"domain":false,"grid":false,"tickSize":-6,"tickColor":"#666","tickWidth":1,"labelFont":"Liberation Sans","labelFontSize":9.4,"labelColor":"#111","titleFont":"Liberation Sans","titleFontSize":9.4,"titleFontWeight":"normal","titleColor":"#111","labelFlush":false},
 "axisLeft":{"labelPadding":13.5,"titlePadding":16},
 "axisBottom":{"labelPadding":16,"titlePadding":11}
}
}
